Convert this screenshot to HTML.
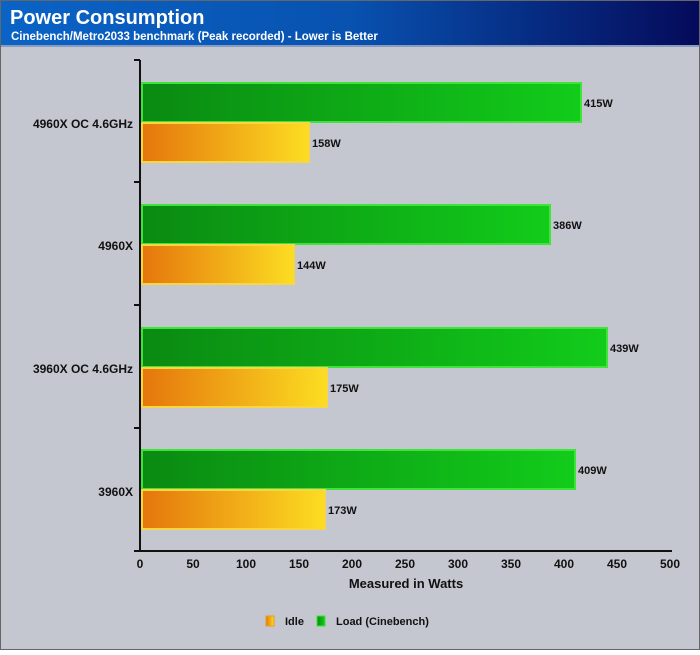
<!DOCTYPE html>
<html><head><style>
body{margin:0;width:700px;height:650px;overflow:hidden;font-family:"Liberation Sans",Arial,sans-serif;}
</style></head><body>
<svg width="700" height="650" xmlns="http://www.w3.org/2000/svg" font-family="Liberation Sans, Arial, sans-serif">
<defs>
<linearGradient id="hd" x1="0" x2="1"><stop offset="0" stop-color="#0a63c6"/><stop offset="0.5" stop-color="#0852b0"/><stop offset="1" stop-color="#050a5a"/></linearGradient>
<linearGradient id="gr" x1="0" x2="1"><stop offset="0" stop-color="#0a8a12"/><stop offset="1" stop-color="#12cc1a"/></linearGradient>
<linearGradient id="or" x1="0" x2="1"><stop offset="0" stop-color="#e5760c"/><stop offset="1" stop-color="#fcdd22"/></linearGradient>
</defs>
<rect width="700" height="650" fill="#c4c6d0"/>
<rect width="700" height="46" fill="url(#hd)"/>
<rect x="0" y="45" width="700" height="2" fill="#8a9bc0"/>
<text x="10" y="24" font-size="20" font-weight="bold" fill="#fff">Power Consumption</text>
<text x="11" y="40" font-size="11.5" font-weight="bold" fill="#fff">Cinebench/Metro2033 benchmark (Peak recorded) - Lower is Better</text>
<g stroke="#111" stroke-width="2">
<line x1="140" y1="60" x2="140" y2="551"/>
<line x1="134" y1="551" x2="672" y2="551"/>
<line x1="134" y1="60" x2="140" y2="60"/>
<line x1="134" y1="182" x2="140" y2="182"/>
<line x1="134" y1="305" x2="140" y2="305"/>
<line x1="134" y1="428" x2="140" y2="428"/>
</g>
<g font-size="12" font-weight="bold" fill="#111" text-anchor="middle">
<text x="140" y="568">0</text><text x="193" y="568">50</text><text x="246" y="568">100</text><text x="299" y="568">150</text><text x="352" y="568">200</text><text x="405" y="568">250</text><text x="458" y="568">300</text><text x="511" y="568">350</text><text x="564" y="568">400</text><text x="617" y="568">450</text><text x="670" y="568">500</text>
<text x="406" y="588" font-size="13">Measured in Watts</text>
</g>
<g font-size="12" font-weight="bold" fill="#111" text-anchor="end">
<text x="133" y="128">4960X OC 4.6GHz</text>
<text x="133" y="250">4960X</text>
<text x="133" y="373">3960X OC 4.6GHz</text>
<text x="133" y="496">3960X</text>
</g>
<g stroke-width="2">
<rect x="142" y="83" width="439" height="39" fill="url(#gr)" stroke="#3fe33a"/>
<rect x="142" y="123" width="167" height="39" fill="url(#or)" stroke="#f7d640"/>
<rect x="142" y="205" width="408" height="39" fill="url(#gr)" stroke="#3fe33a"/>
<rect x="142" y="245" width="152" height="39" fill="url(#or)" stroke="#f7d640"/>
<rect x="142" y="328" width="465" height="39" fill="url(#gr)" stroke="#3fe33a"/>
<rect x="142" y="368" width="185" height="39" fill="url(#or)" stroke="#f7d640"/>
<rect x="142" y="450" width="433" height="39" fill="url(#gr)" stroke="#3fe33a"/>
<rect x="142" y="490" width="183" height="39" fill="url(#or)" stroke="#f7d640"/>
</g>
<g font-size="11" font-weight="bold" fill="#111">
<text x="584" y="107">415W</text><text x="312" y="147">158W</text>
<text x="553" y="229">386W</text><text x="297" y="269">144W</text>
<text x="610" y="352">439W</text><text x="330" y="392">175W</text>
<text x="578" y="474">409W</text><text x="328" y="514">173W</text>
</g>
<rect x="266" y="616" width="8" height="10" fill="url(#or)" stroke="#e5a020"/>
<text x="285" y="625" font-size="11" font-weight="bold" fill="#111">Idle</text>
<rect x="317" y="616" width="8" height="10" fill="url(#gr)" stroke="#3fe33a"/>
<text x="336" y="625" font-size="11" font-weight="bold" fill="#111">Load (Cinebench)</text>
<rect x="0.5" y="0.5" width="699" height="649" fill="none" stroke="#666"/>
</svg>
</body></html>
